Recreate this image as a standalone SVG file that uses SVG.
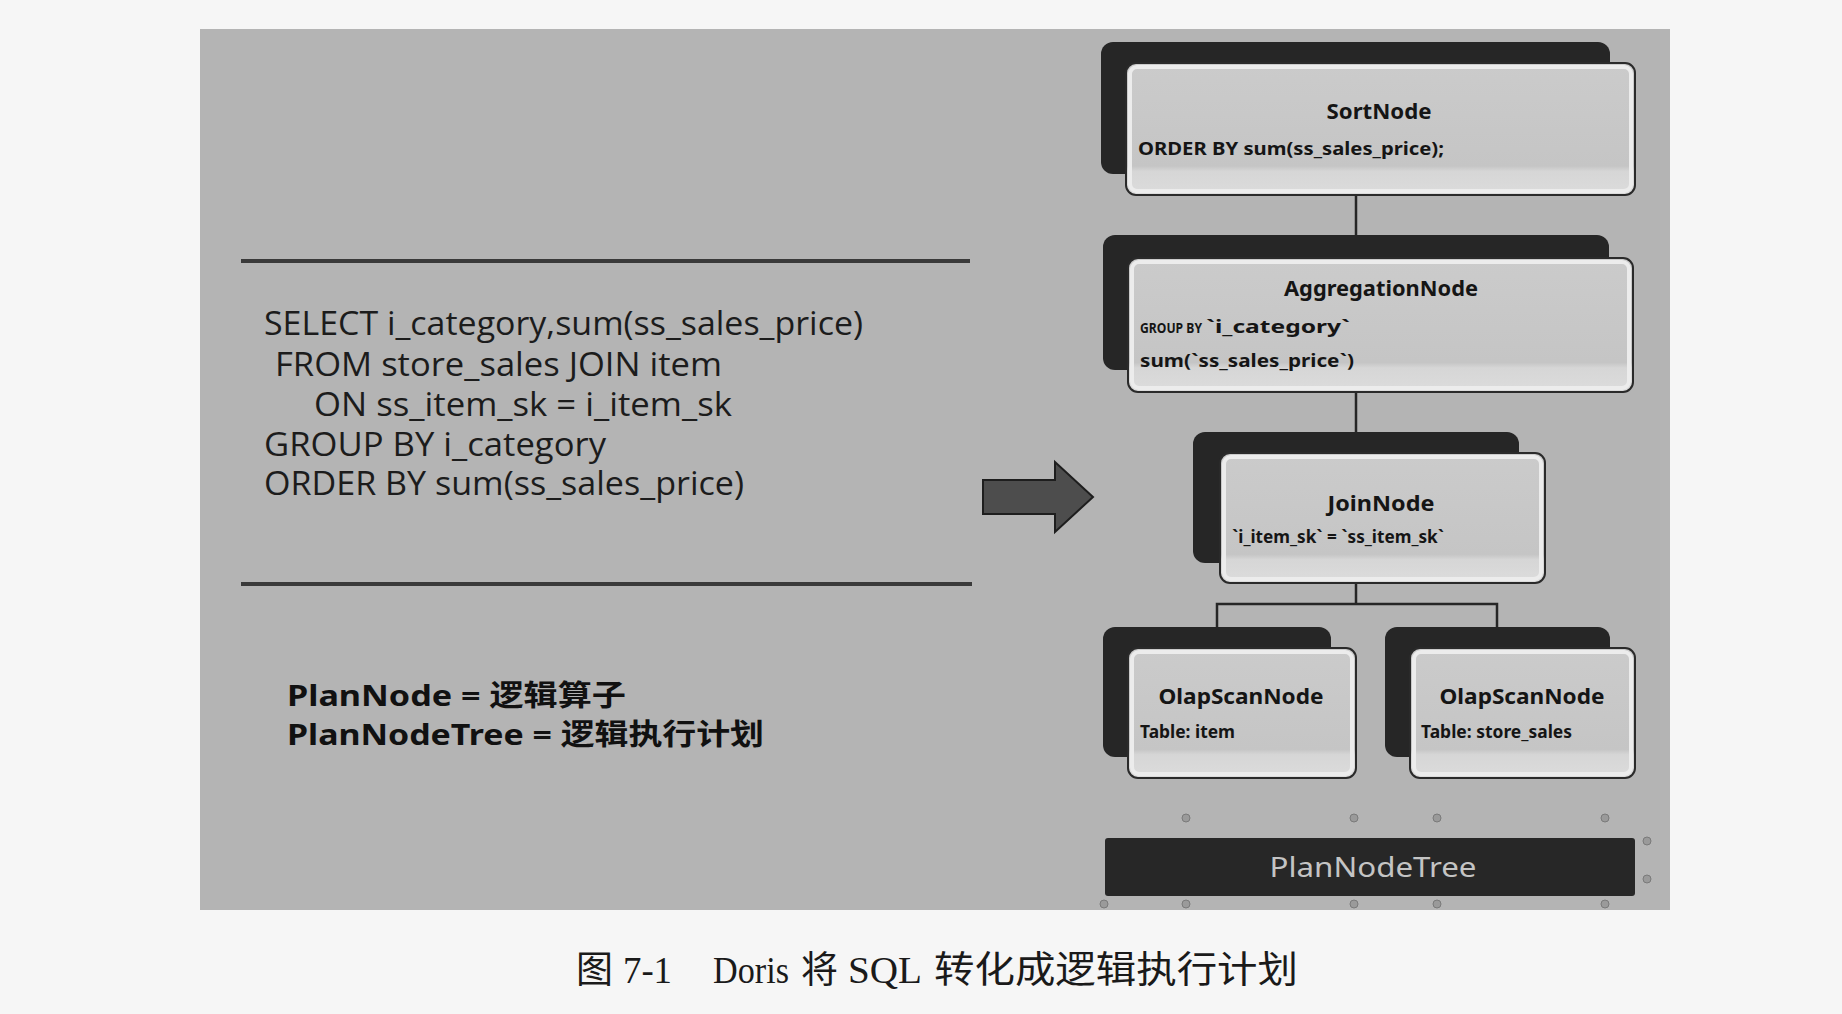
<svg xmlns="http://www.w3.org/2000/svg" width="1842" height="1014" viewBox="0 0 1842 1014">
  <style>
    .sql { font-family: "Open Sans", "Noto Sans", sans-serif; font-size: 32px; fill: #1c1c1c; }
    .def { font-family: "Noto Sans", "Noto Sans CJK SC", sans-serif; font-size: 29px; font-weight: 700; fill: #111; }
    .title { font-family: "Noto Sans", "Liberation Sans", sans-serif; font-weight: 700; font-size: 21px; fill: #151515; text-anchor: middle; }
    .detail { font-family: "Noto Sans", "Liberation Sans", sans-serif; font-weight: 700; font-size: 18px; fill: #151515; }
    .back { fill: #262626; }
    .front { fill: url(#nodeFill); stroke: #2a2a2a; stroke-width: 2; }
    .rim { fill: none; stroke: #ececec; stroke-width: 4; }
    .wire { stroke: #262626; stroke-width: 2.5; fill: none; }
    .rule { stroke: #3a3a3a; stroke-width: 4; }
    .handle { fill: #9a9a9a; stroke: #7a7a7a; stroke-width: 1; }
  </style>
  <defs>
    <linearGradient id="nodeFill" x1="0" y1="0" x2="0" y2="1">
      <stop offset="0" stop-color="#cbcbcb"/>
      <stop offset="0.78" stop-color="#c5c5c5"/>
      <stop offset="0.82" stop-color="#d6d6d6"/>
      <stop offset="1" stop-color="#dcdcdc"/>
    </linearGradient>
  </defs>

  <!-- page and slide panel -->
  <rect x="0" y="0" width="1842" height="1014" fill="#f6f6f6"/>
  <rect x="200" y="29" width="1470" height="881" fill="#b4b4b4"/>

  <!-- SQL statement between two rules -->
  <g id="sql-block">
    <line class="rule" x1="241" y1="261" x2="970" y2="261"/>
    <line class="rule" x1="241" y1="584" x2="972" y2="584"/>
    <text class="sql" x="264" y="335" textLength="599" lengthAdjust="spacingAndGlyphs">SELECT i_category,sum(ss_sales_price)</text>
    <text class="sql" x="275" y="376" textLength="447" lengthAdjust="spacingAndGlyphs">FROM store_sales JOIN item</text>
    <text class="sql" x="314" y="416" textLength="418" lengthAdjust="spacingAndGlyphs">ON ss_item_sk = i_item_sk</text>
    <text class="sql" x="264" y="456" textLength="342" lengthAdjust="spacingAndGlyphs">GROUP BY i_category</text>
    <text class="sql" x="264" y="495" textLength="480" lengthAdjust="spacingAndGlyphs">ORDER BY sum(ss_sales_price)</text>
  </g>

  <!-- definitions -->
  <g id="definitions">
    <text class="def" x="287" y="706" textLength="339" lengthAdjust="spacingAndGlyphs">PlanNode = 逻辑算子</text>
    <text class="def" x="287" y="745" textLength="477" lengthAdjust="spacingAndGlyphs">PlanNodeTree = 逻辑执行计划</text>
  </g>

  <!-- block arrow -->
  <g id="arrow">
    <polygon points="983,480 1055,480 1055,462 1093,497 1055,532 1055,514 983,514" fill="#4d4d4d" stroke="#1e1e1e" stroke-width="2" stroke-linejoin="miter"/>
  </g>

  <!-- tree connectors -->
  <g id="connectors">
    <line class="wire" x1="1356" y1="195" x2="1356" y2="258"/>
    <line class="wire" x1="1356" y1="392" x2="1356" y2="453"/>
    <polyline class="wire" points="1356,583 1356,604"/>
    <polyline class="wire" points="1217,648 1217,604 1497,604 1497,648"/>
  </g>

  <!-- SortNode -->
  <g id="sort-node">
    <rect class="back" x="1101" y="42" width="509" height="132" rx="12"/>
    <rect class="front" x="1126" y="63" width="509" height="132" rx="10"/>
    <rect class="rim" x="1130" y="67" width="501" height="124" rx="7"/>
    <text class="title" x="1379" y="119" textLength="105" lengthAdjust="spacingAndGlyphs">SortNode</text>
    <text class="detail" x="1138" y="155" font-size="19" textLength="306" lengthAdjust="spacingAndGlyphs">ORDER BY sum(ss_sales_price);</text>
  </g>

  <!-- AggregationNode -->
  <g id="aggregation-node">
    <rect class="back" x="1103" y="235" width="506" height="135" rx="12"/>
    <rect class="front" x="1128" y="258" width="505" height="134" rx="10"/>
    <rect class="rim" x="1132" y="262" width="497" height="126" rx="7"/>
    <text class="title" x="1381" y="296" font-size="22" textLength="194" lengthAdjust="spacingAndGlyphs">AggregationNode</text>
    <text class="detail" x="1140" y="333"><tspan font-size="14" textLength="62" lengthAdjust="spacingAndGlyphs">GROUP BY</tspan><tspan x="1206" textLength="144" lengthAdjust="spacingAndGlyphs">`i_category`</tspan></text>
    <text class="detail" x="1140" y="367" textLength="214" lengthAdjust="spacingAndGlyphs">sum(`ss_sales_price`)</text>
  </g>

  <!-- JoinNode -->
  <g id="join-node">
    <rect class="back" x="1193" y="432" width="326" height="131" rx="12"/>
    <rect class="front" x="1220" y="453" width="325" height="130" rx="10"/>
    <rect class="rim" x="1224" y="457" width="317" height="122" rx="7"/>
    <text class="title" x="1381" y="511" textLength="107" lengthAdjust="spacingAndGlyphs">JoinNode</text>
    <text class="detail" x="1232" y="543" font-size="15" textLength="212" lengthAdjust="spacingAndGlyphs">`i_item_sk` = `ss_item_sk`</text>
  </g>

  <!-- OlapScanNode (item) -->
  <g id="scan-item">
    <rect class="back" x="1103" y="627" width="228" height="130" rx="12"/>
    <rect class="front" x="1128" y="648" width="228" height="130" rx="10"/>
    <rect class="rim" x="1132" y="652" width="220" height="122" rx="7"/>
    <text class="title" x="1241" y="704" textLength="165" lengthAdjust="spacingAndGlyphs">OlapScanNode</text>
    <text class="detail" x="1140" y="738" font-size="16" textLength="95" lengthAdjust="spacingAndGlyphs">Table: item</text>
  </g>

  <!-- OlapScanNode (store_sales) -->
  <g id="scan-store-sales">
    <rect class="back" x="1385" y="627" width="225" height="130" rx="12"/>
    <rect class="front" x="1410" y="648" width="225" height="130" rx="10"/>
    <rect class="rim" x="1414" y="652" width="217" height="122" rx="7"/>
    <text class="title" x="1522" y="704" textLength="165" lengthAdjust="spacingAndGlyphs">OlapScanNode</text>
    <text class="detail" x="1421" y="738" font-size="16" textLength="151" lengthAdjust="spacingAndGlyphs">Table: store_sales</text>
  </g>

  <!-- selection handles around the tree -->
  <g id="handles">
    <circle class="handle" cx="1186" cy="818" r="4"/>
    <circle class="handle" cx="1354" cy="818" r="4"/>
    <circle class="handle" cx="1437" cy="818" r="4"/>
    <circle class="handle" cx="1605" cy="818" r="4"/>
    <circle class="handle" cx="1647" cy="841" r="4"/>
    <circle class="handle" cx="1647" cy="879" r="4"/>
    <circle class="handle" cx="1104" cy="904" r="4"/>
    <circle class="handle" cx="1186" cy="904" r="4"/>
    <circle class="handle" cx="1354" cy="904" r="4"/>
    <circle class="handle" cx="1437" cy="904" r="4"/>
    <circle class="handle" cx="1605" cy="904" r="4"/>
  </g>

  <!-- PlanNodeTree label bar -->
  <g id="plan-node-tree">
    <rect x="1105" y="838" width="530" height="58" rx="3" fill="#272727"/>
    <text x="1373" y="877" font-family="Noto Sans, Open Sans, sans-serif" font-size="28" fill="#c4c4c4" text-anchor="middle" textLength="207" lengthAdjust="spacingAndGlyphs">PlanNodeTree</text>
  </g>

  <!-- figure caption -->
  <g id="caption" font-family="Liberation Serif, Noto Sans CJK SC, serif" font-size="37" fill="#1a1a1a">
    <text x="576" y="983">图</text>
    <text x="623" y="983" textLength="49" lengthAdjust="spacingAndGlyphs">7-1</text>
    <text x="713" y="983" textLength="76" lengthAdjust="spacingAndGlyphs">Doris</text>
    <text x="801" y="983">将</text>
    <text x="848" y="983" textLength="74" lengthAdjust="spacingAndGlyphs">SQL</text>
    <text x="934" y="983" textLength="364" lengthAdjust="spacingAndGlyphs">转化成逻辑执行计划</text>
  </g>
</svg>
